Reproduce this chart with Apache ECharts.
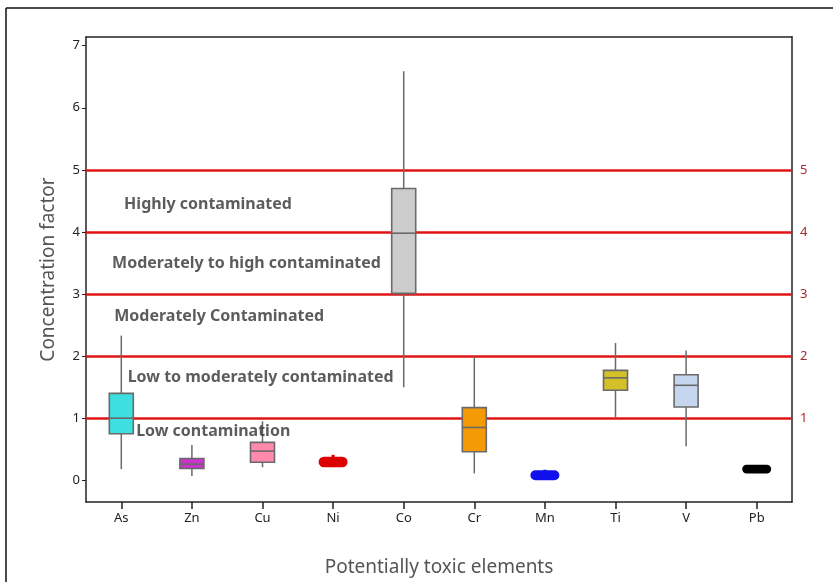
<!DOCTYPE html>
<html><head><meta charset="utf-8">
<script src="https://cdn.jsdelivr.net/npm/echarts@6/dist/echarts.min.js"></script>
<style>html,body{margin:0;padding:0;background:#fff}#c{width:833px;height:582px}</style>
</head><body><div id="c"></div>
<script>
const categories = ['As','Zn','Cu','Ni','Co','Cr','Mn','Ti','V','Pb'];
// [low, Q1, median, Q3, high]
const lows    = [0.18, 0.07, 0.21, 0.24, 1.50, 0.11, 0.03, 1.02, 0.55, 0.15];
const q1s     = [0.75, 0.19, 0.29, 0.25, 3.01, 0.46, 0.04, 1.45, 1.18, 0.15];
const medians = [1.00, 0.26, 0.47, 0.30, 3.98, 0.85, 0.08, 1.65, 1.53, 0.18];
const q3s     = [1.40, 0.35, 0.61, 0.34, 4.70, 1.17, 0.12, 1.77, 1.70, 0.21];
const highs   = [2.33, 0.57, 0.95, 0.41, 6.59, 1.99, 0.17, 2.21, 2.09, 0.22];
const fills   = ['#3ddfe0','#cc33cc','#ff8aab','#dd0000','#cccccc','#f39a05','#1010ee','#d4c12a','#c5d6ee','#000000'];
const solid   = [false,false,false,true,false,false,true,false,false,true];
const yTicks = [0,1,2,3,4,5,6,7];
const thresholds = [1,2,3,4,5];
const zoneLabels = ['Highly contaminated','Moderately to high contaminated','Moderately Contaminated','Low to moderately contaminated','Low contamination'];
const zoneX = [0.54, 0.37, 0.40, 0.59, 0.71];
const zoneY = [4.44, 3.49, 2.64, 1.65, 0.79];

const boxData = categories.map((c,i)=>[i, lows[i], q1s[i], medians[i], q3s[i], highs[i]]);
const chart = echarts.init(document.getElementById('c'), null, {renderer:'canvas'});
const FONT = 'Noto Sans';
chart.setOption({
  animation:false,
  grid:{left:86, right:41, top:37, bottom:76, show:false},
  xAxis:[{
    type:'category', data:categories, boundaryGap:true,
    axisLine:{show:true, onZero:false, lineStyle:{color:'#222', width:1.5}},
    axisTick:{show:true, inside:false, alignWithLabel:true, interval:0, length:7, lineStyle:{color:'#222', width:1.5}},
    axisLabel:{color:'#222', fontSize:13, fontFamily:FONT, margin:10},
    name:'Potentially toxic elements', nameLocation:'middle', nameGap:56,
    nameTextStyle:{color:'#555', fontSize:19, fontFamily:FONT}
  },{
    type:'value', min:0, max:10, show:false
  },{
    type:'category', position:'top', data:categories, axisLine:{show:true, onZero:false, lineStyle:{color:'#222', width:1.5}},
    axisTick:{show:false}, axisLabel:{show:false}
  }],
  yAxis:[{
    type:'value', min:-0.35, max:7.14,
    axisLine:{show:true, onZero:false, lineStyle:{color:'#222', width:1.5}},
    axisTick:{show:true, length:4, lineStyle:{color:'#222'}, customValues:yTicks},
    axisLabel:{color:'#222', fontSize:13, fontFamily:FONT, margin:6, customValues:yTicks},
    splitLine:{show:false},
    name:'Concentration factor', nameLocation:'middle', nameGap:28,
    nameTextStyle:{color:'#555', fontSize:19, fontFamily:FONT}
  },{
    type:'value', min:-0.35, max:7.14, position:'right',
    axisLine:{show:true, onZero:false, lineStyle:{color:'#222', width:1.5}},
    axisTick:{show:false},
    axisLabel:{color:'#a8282c', fontSize:13, fontFamily:FONT, margin:8, customValues:thresholds},
    splitLine:{show:false}
  }],
  series:[{
    type:'line', data:[], xAxisIndex:0, yAxisIndex:0, z:1,
    markLine:{silent:true, z:1, symbol:'none', label:{show:false},
      lineStyle:{color:'#e01515', width:2.6, type:'solid'},
      data: thresholds.map(v=>({yAxis:v}))}
  },{
    type:'custom', xAxisIndex:0, yAxisIndex:0, z:3,
    data: boxData,
    encode:{x:0, y:[1,2,3,4,5]},
    renderItem:function(params, api){
      const i = params.dataIndex;
      const x = api.coord([api.value(0), 0])[0];
      const yl = api.coord([api.value(0), api.value(1)])[1];
      const yq1 = api.coord([api.value(0), api.value(2)])[1];
      const ym = api.coord([api.value(0), api.value(3)])[1];
      const yq3 = api.coord([api.value(0), api.value(4)])[1];
      const yh = api.coord([api.value(0), api.value(5)])[1];
      const w = 24;
      if (solid[i]) {
        return {type:'group', children:[
          {type:'line', shape:{x1:x,y1:yl,x2:x,y2:yh}, style:{stroke:fills[i], lineWidth:3}},
          {type:'rect', shape:{x:x-w/2, y:yq3, width:w, height:Math.max(yq1-yq3,1), r:3},
            style:{fill:fills[i], stroke:fills[i], lineWidth:5}}
        ]};
      }
      return {type:'group', children:[
        {type:'line', shape:{x1:x,y1:yl,x2:x,y2:yh}, style:{stroke:'#6a6a6a', lineWidth:1.5}},
        {type:'rect', shape:{x:x-w/2, y:yq3, width:w, height:yq1-yq3},
          style:{fill:fills[i], stroke:'#6a6a6a', lineWidth:1.6}},
        {type:'line', shape:{x1:x-w/2,y1:ym,x2:x+w/2,y2:ym}, style:{stroke:'#6a6a6a', lineWidth:1.6}}
      ]};
    }
  },{
    type:'scatter', xAxisIndex:1, yAxisIndex:0, z:4, symbolSize:0,
    data: zoneLabels.map((t,i)=>({value:[zoneX[i], zoneY[i]], name:t})),
    label:{show:true, position:'right', distance:0, formatter:p=>p.name,
      color:'#333', fontSize:16, fontWeight:'bold', fontFamily:FONT}
  }],
  graphic:[
    {type:'line', shape:{x1:6,y1:8,x2:833,y2:8}, style:{stroke:'#111', lineWidth:1.5}},
    {type:'line', shape:{x1:6,y1:8,x2:6,y2:582}, style:{stroke:'#111', lineWidth:1.5}}
  ]
});
</script></body></html>
